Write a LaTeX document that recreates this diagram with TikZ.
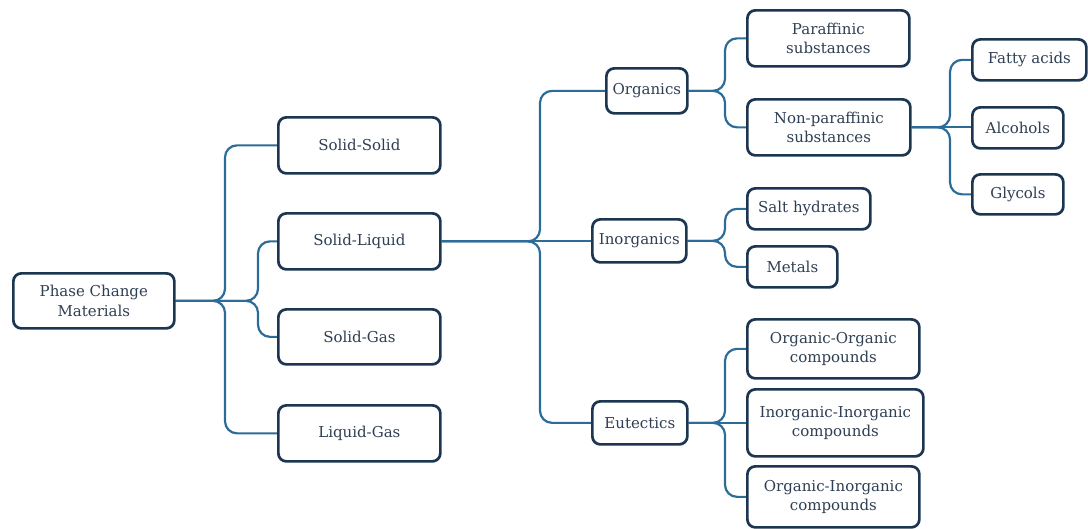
\documentclass[tikz,border=0pt]{standalone}
\usepackage{fontspec}
\setmainfont{DejaVu Serif}
\usetikzlibrary{backgrounds}
\begin{document}
\begin{tikzpicture}[x=1pt,y=-1pt,
  box/.style={draw=boxc, line width=2.7pt, rounded corners=8pt, fill=white, text=txtc,
    align=center, inner sep=0pt, anchor=north west, font=\fontsize{15}{19.5}\selectfont},
  conn/.style={draw=linec, line width=2.2pt, rounded corners=12pt}]
\definecolor{boxc}{HTML}{1C3651}
\definecolor{txtc}{HTML}{2F3F54}
\definecolor{linec}{HTML}{2C6C98}
\useasboundingbox (0,0) rectangle (1088,528);
\node[box, minimum width=161pt, minimum height=55pt] (pcm) at (12,272) {Phase Change\\Materials};
\node[box, minimum width=162pt, minimum height=56pt] (ss) at (277,116) {Solid-Solid};
\node[box, minimum width=162pt, minimum height=56pt] (sl) at (277,212) {Solid-Liquid};
\node[box, minimum width=162pt, minimum height=55pt] (sg) at (277,308) {Solid-Gas};
\node[box, minimum width=162pt, minimum height=56pt] (lg) at (277,404) {Liquid-Gas};
\node[box, minimum width=81pt, minimum height=45pt] (org) at (605,67) {Organics};
\node[box, minimum width=94pt, minimum height=43pt] (inorg) at (591,218) {Inorganics};
\node[box, minimum width=95pt, minimum height=43pt] (eut) at (591,400) {Eutectics};
\node[box, minimum width=162pt, minimum height=56pt] (par) at (746,9) {Paraffinic\\substances};
\node[box, minimum width=163pt, minimum height=56pt] (npar) at (746,98) {Non-paraffinic\\substances};
\node[box, minimum width=123pt, minimum height=41pt] (salt) at (746,187) {Salt hydrates};
\node[box, minimum width=90pt, minimum height=41pt] (met) at (746,245) {Metals};
\node[box, minimum width=172pt, minimum height=59pt] (oo) at (746,318) {Organic-Organic\\compounds};
\node[box, minimum width=176pt, minimum height=67pt] (ii) at (746,388) {Inorganic-Inorganic\\compounds};
\node[box, minimum width=172pt, minimum height=61pt] (oi) at (746,465) {Organic-Inorganic\\compounds};
\node[box, minimum width=114pt, minimum height=41pt] (fa) at (971,38) {Fatty acids};
\node[box, minimum width=91pt, minimum height=41pt] (alc) at (971,106) {Alcohols};
\node[box, minimum width=91pt, minimum height=40pt] (gly) at (971,173) {Glycols};
\coordinate (b0o) at (225,0);
\coordinate (b0i) at (258,0);
\coordinate (b1) at (540,0);
\coordinate (b2) at (725,0);
\coordinate (b3) at (950,0);
\begin{pgfonlayer}{background}
\draw[conn] (pcm.east) -- (pcm.east -| b0o) |- (ss.west);
\draw[conn] (pcm.east) -- (pcm.east -| b0i) |- (sl.west);
\draw[conn] (pcm.east) -- (pcm.east -| b0i) |- (sg.west);
\draw[conn] (pcm.east) -- (pcm.east -| b0o) |- (lg.west);
\draw[conn] (sl.east) -- (sl.east -| b1) |- (org.west);
\draw[conn] (sl.east) -- (sl.east -| inorg.west);
\draw[conn] (sl.east) -- (sl.east -| b1) |- (eut.west);
\draw[conn] (org.east) -- (org.east -| b2) |- (par.west);
\draw[conn] (org.east) -- (org.east -| b2) |- (npar.west);
\draw[conn] (inorg.east) -- (inorg.east -| b2) |- (salt.west);
\draw[conn] (inorg.east) -- (inorg.east -| b2) |- (met.west);
\draw[conn] (eut.east) -- (eut.east -| b2) |- (oo.west);
\draw[conn] (eut.east) -- (eut.east -| ii.west);
\draw[conn] (eut.east) -- (eut.east -| b2) |- (oi.west);
\draw[conn] (npar.east) -- (npar.east -| b3) |- (fa.west);
\draw[conn] (npar.east) -- (npar.east -| alc.west);
\draw[conn] (npar.east) -- (npar.east -| b3) |- (gly.west);
\end{pgfonlayer}
\end{tikzpicture}
\end{document}
